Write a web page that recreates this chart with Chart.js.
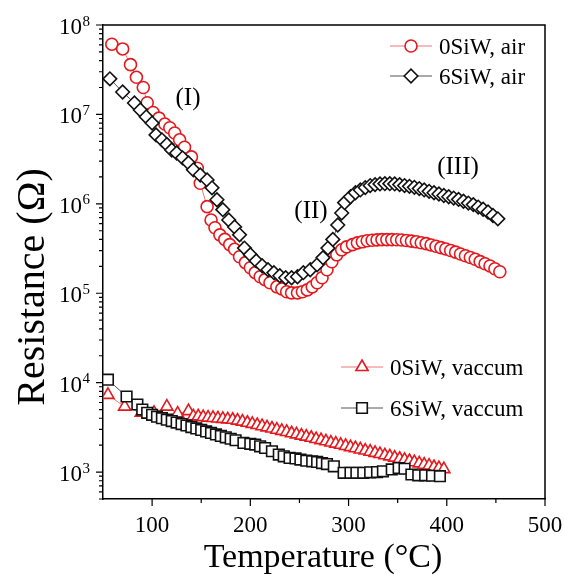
<!DOCTYPE html>
<html>
<head>
<meta charset="utf-8">
<script src="https://cdn.jsdelivr.net/npm/chart.js@4.4.1/dist/chart.umd.min.js"></script>
<style>
  html, body { margin: 0; padding: 0; background: #fff; }
  #wrap { width: 564px; height: 575px; position: relative; }
</style>
</head>
<body>
<div id="wrap"><canvas id="c"></canvas></div>
<script>
// temperatures (°C) and resistances (Ohm)
const temp0Air = [59,70,78,84,91,95,101,107,113,118,123,128,133,140,146,149,156,160,164,169,174,179,184,189,195,200,205,210,215,220,227,232,237,242,248,253,258,263,268,273,278,283,288,293,298,304,309,314,319,324,329,334,339,344,349,354,359,364,369,374,379,384,389,394,399,404,409,414,419,424,429,434,439,444,449,454];
const res0Air = [6.1e7,5.4e7,3.6e7,2.6e7,2.0e7,1.35e7,1.05e7,9.1e6,7.8e6,7.1e6,6.2e6,5.2e6,4.3e6,3.35e6,2.5e6,1.7e6,9.3e5,6.6e5,5.4e5,4.5e5,4.0e5,3.5e5,3.1e5,2.56e5,2.2e5,1.93e5,1.7e5,1.53e5,1.42e5,1.31e5,1.18e5,1.12e5,1.04e5,1.01e5,1.01e5,1.04e5,1.09e5,1.18e5,1.31e5,1.49e5,1.83e5,2.25e5,2.69e5,3.06e5,3.3e5,3.5e5,3.66e5,3.76e5,3.86e5,3.91e5,3.95e5,3.98e5,3.98e5,3.98e5,3.96e5,3.94e5,3.89e5,3.83e5,3.76e5,3.67e5,3.59e5,3.47e5,3.35e5,3.24e5,3.13e5,3.01e5,2.88e5,2.75e5,2.63e5,2.51e5,2.40e5,2.26e5,2.14e5,2.02e5,1.88e5,1.74e5];

const temp6Air = [57,70,82,88,94,100,104,110,115,120,125,131,137,142,149,156,161,166,172,178,184,189,194,200,206,212,218,224,230,236,242,248,254,261,268,274,279,284,289,293,296,302,307,312,317,322,327,332,337,342,347,352,357,362,367,372,377,382,387,392,397,402,407,412,417,422,427,432,437,442,447,452];
const res6Air = [2.5e7,1.78e7,1.34e7,1.12e7,9.4e6,8.0e6,5.9e6,5.2e6,4.6e6,4.0e6,3.7e6,3.27e6,2.87e6,2.4e6,2.1e6,1.85e6,1.51e6,1.11e6,8.6e5,6.6e5,5.5e5,4.5e5,3.2e5,2.7e5,2.3e5,2.03e5,1.83e5,1.70e5,1.57e5,1.49e5,1.49e5,1.53e5,1.70e5,1.83e5,2.08e5,2.5e5,3.2e5,4.0e5,5.8e5,7.9e5,1.03e6,1.2e6,1.33e6,1.43e6,1.52e6,1.6e6,1.64e6,1.67e6,1.68e6,1.68e6,1.67e6,1.64e6,1.60e6,1.57e6,1.53e6,1.48e6,1.43e6,1.38e6,1.33e6,1.29e6,1.24e6,1.20e6,1.16e6,1.12e6,1.07e6,1.02e6,9.8e5,9.2e5,8.7e5,8.1e5,7.4e5,6.8e5];

const temp0Vac = [55,72,89,102,115,126,137,142,147,152,157,162,167,172,177,182,187,192,197,202,207,212,217,222,227,232,237,242,247,252,257,262,267,272,277,282,287,292,297,302,307,312,317,322,327,332,337,342,347,352,357,362,367,372,377,382,387,392,397];
const res0Vac = [7300,5400,4600,4600,5400,4500,4800,4200,4200,4120,4070,4030,3980,3940,3890,3850,3760,3670,3560,3460,3360,3260,3160,3070,2980,2890,2810,2720,2640,2560,2490,2420,2340,2280,2210,2140,2080,2020,1960,1900,1850,1790,1740,1690,1640,1590,1540,1500,1450,1410,1370,1330,1290,1250,1210,1180,1140,1110,1080];

const temp6Vac = [55,74,85,90,95,100,105,110,115,120,125,130,135,140,145,150,155,160,165,170,175,180,185,193,200,205,210,215,222,229,234,240,246,251,257,263,268,273,278,285,295,302,308,315,322,329,335,344,351,357,364,371,378,385,393];
const res6Vac = [10800,7000,5700,5000,4600,4370,4170,4010,3860,3720,3580,3440,3320,3190,3080,2960,2850,2740,2640,2540,2450,2360,2270,2120,2070,2030,1940,1860,1710,1570,1500,1440,1420,1380,1340,1320,1300,1260,1230,1160,980,980,980,980,995,1000,1020,1070,1110,1090,940,920,920,910,900];

const xTicks = [100, 200, 300, 400, 500];
const xMinor = [150, 250, 350, 450];
const yDecades = [3, 4, 5, 6, 7, 8];
const regionLabels = [['(I)', 188, 97], ['(II)', 311, 210], ['(III)', 458, 166]];

const RED = '#e3191e';
const BLACK = '#111111';
const SERIF = '"Liberation Serif", "Times New Roman", serif';

const pts = (xs, ys) => xs.map((x, i) => ({ x: x, y: ys[i] }));

function series(label, xs, ys, color, lineColor, style, radius, order) {
  return {
    label: label,
    data: pts(xs, ys),
    borderColor: lineColor,
    borderWidth: 1,
    pointStyle: style,
    pointRadius: radius,
    pointBorderColor: color,
    pointBackgroundColor: '#fff',
    pointBorderWidth: 1.6,
    tension: 0,
    order: order,
  };
}

const datasets = [
  series('0SiW, air', temp0Air, res0Air, RED, '#ee7777', 'circle', 6, 1),
  series('6SiW, air', temp6Air, res6Air, BLACK, '#555', 'rectRot', 6.8, 0),
  series('0SiW, vaccum', temp0Vac, res0Vac, RED, '#ee7777', 'triangle', 7, 1),
  series('6SiW, vaccum', temp6Vac, res6Vac, BLACK, '#555', 'rect', 7.5, 0),
];

// legend entries: dataset index, marker x, y
const legendItems = [[0, 411, 46], [1, 411, 76], [2, 362, 367], [3, 362, 408]];

const decor = {
  id: 'decor',
  afterDraw(chart) {
    const ctx = chart.ctx, xs = chart.scales.x, ys = chart.scales.y, a = chart.chartArea;
    ctx.save();
    ctx.strokeStyle = '#000';
    ctx.lineWidth = 1.5;
    ctx.beginPath();
    ctx.moveTo(a.left, a.top); ctx.lineTo(a.right, a.top); ctx.lineTo(a.right, a.bottom);
    ctx.stroke();

    ctx.lineWidth = 1.2;
    ctx.beginPath();
    xTicks.forEach(v => { const p = xs.getPixelForValue(v); ctx.moveTo(p, a.bottom); ctx.lineTo(p, a.bottom + 7); });
    xMinor.forEach(v => { const p = xs.getPixelForValue(v); ctx.moveTo(p, a.bottom); ctx.lineTo(p, a.bottom + 4); });
    for (let n = 2; n <= 8; n++) {
      for (let k = 1; k <= 9; k++) {
        const v = k * Math.pow(10, n);
        if (v < 500 || v > 1e8) continue;
        const p = ys.getPixelForValue(v);
        ctx.moveTo(a.left, p); ctx.lineTo(a.left - (k === 1 ? 7 : 4), p);
      }
    }
    ctx.stroke();

    ctx.fillStyle = '#000';
    ctx.font = '23px ' + SERIF;
    ctx.textAlign = 'center';
    ctx.textBaseline = 'alphabetic';
    xTicks.forEach(v => ctx.fillText(String(v), xs.getPixelForValue(v), 532));

    yDecades.forEach(n => {
      const p = ys.getPixelForValue(Math.pow(10, n));
      ctx.font = '23px ' + SERIF;
      ctx.textAlign = 'right';
      ctx.fillText('10', 82, p + 9);
      ctx.font = '15px ' + SERIF;
      ctx.textAlign = 'left';
      ctx.fillText(String(n), 82.5, p + 0.5);
    });

    ctx.font = '34px ' + SERIF;
    ctx.textAlign = 'center';
    ctx.fillText('Temperature (°C)', 323, 567);

    ctx.save();
    ctx.translate(44, 287);
    ctx.rotate(-Math.PI / 2);
    ctx.font = '40px ' + SERIF;
    ctx.fillText('Resistance (Ω)', 0, 0);
    ctx.restore();

    ctx.font = '25px ' + SERIF;
    regionLabels.forEach(r => ctx.fillText(r[0], r[1], r[2] + 8));

    ctx.font = '23px ' + SERIF;
    ctx.textAlign = 'left';
    legendItems.forEach(it => {
      const ds = chart.data.datasets[it[0]], x = it[1], y = it[2];
      ctx.strokeStyle = ds.borderColor;
      ctx.lineWidth = 1;
      ctx.beginPath(); ctx.moveTo(x - 21, y); ctx.lineTo(x + 21, y); ctx.stroke();
      ctx.strokeStyle = ds.pointBorderColor;
      ctx.fillStyle = '#fff';
      ctx.lineWidth = ds.pointBorderWidth;
      Chart.helpers.drawPoint(ctx, { pointStyle: ds.pointStyle, radius: ds.pointRadius, rotation: 0, borderWidth: ds.pointBorderWidth }, x, y);
      ctx.fillStyle = '#000';
      ctx.fillText(ds.label, x + 28, y + 8);
    });
    ctx.restore();
  }
};

new Chart(document.getElementById('c'), {
  type: 'line',
  data: { datasets: datasets },
  options: {
    responsive: true,
    maintainAspectRatio: false,
    animation: false,
    devicePixelRatio: 1,
    layout: { padding: { top: 25, right: 19, left: 0, bottom: 0 } },
    plugins: { legend: { display: false }, tooltip: { enabled: false } },
    scales: {
      x: {
        type: 'linear', min: 50, max: 500,
        grid: { display: false },
        border: { display: true, color: '#000', width: 1.5 },
        ticks: { display: false },
        afterFit: s => { s.height = 76; },
      },
      y: {
        type: 'logarithmic', min: 500, max: 1e8,
        grid: { display: false },
        border: { display: true, color: '#000', width: 1.5 },
        ticks: { display: false },
        afterFit: s => { s.width = 103; },
      },
    },
  },
  plugins: [decor],
});
</script>
</body>
</html>
